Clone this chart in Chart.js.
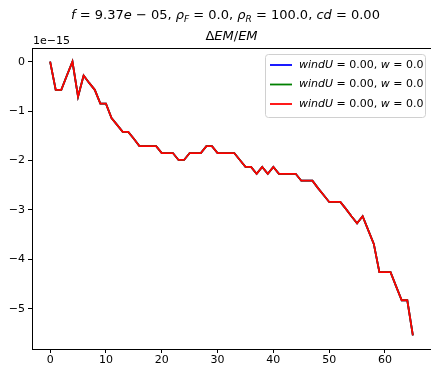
<!DOCTYPE html>
<html>
<head>
<meta charset="utf-8">
<script src="https://cdn.jsdelivr.net/npm/chart.js@4.4.1/dist/chart.umd.min.js"></script>
<style>
  html, body { margin: 0; padding: 0; background: #fff; overflow: hidden; }
  #wrap { width: 431px; height: 367px; }
</style>
</head>
<body>
<div id="wrap"><canvas id="emChart" width="431" height="367"></canvas></div>
<script>
// data (y in units of 1e-15)
const steps = [0, 1, 2, 3, 4, 5, 6, 7, 8, 9, 10, 11, 12, 13, 14, 15, 16, 17, 18, 19, 20, 21,
  22, 23, 24, 25, 26, 27, 28, 29, 30, 31, 32, 33, 34, 35, 36, 37, 38, 39, 40, 41, 42, 43,
  44, 45, 46, 47, 48, 49, 50, 51, 52, 53, 54, 55, 56, 57, 58, 59, 60, 61, 62, 63, 64, 65];
const relErr = [0, -0.57, -0.57, -0.28, 0, -0.71, -0.28, -0.43, -0.57, -0.85, -0.85,
  -1.14, -1.28, -1.42, -1.42, -1.56, -1.71, -1.71, -1.71, -1.71, -1.85, -1.85, -1.85,
  -1.99, -1.99, -1.85, -1.85, -1.85, -1.71, -1.71, -1.85, -1.85, -1.85, -1.85, -1.99,
  -2.13, -2.13, -2.27, -2.13, -2.27, -2.13, -2.27, -2.27, -2.27, -2.27, -2.41, -2.41,
  -2.41, -2.56, -2.70, -2.84, -2.84, -2.84, -2.98, -3.13, -3.27, -3.13, -3.41, -3.69,
  -4.26, -4.26, -4.26, -4.55, -4.83, -4.83, -5.54];
const seriesColors = ["#0000ff", "#008000", "#ff0000"];
const xTicks = [0, 10, 20, 30, 40, 50, 60];
const yTicks = [0, -1, -2, -3, -4, -5];
const yOffsetLabel = "1e\u221215";

const FONT = "DejaVu Sans";

// rich text pieces: plain, italic, italic subscript
const R = t => ({ t, it: false, sub: false });
const I = t => ({ t, it: true, sub: false });
const S = t => ({ t, it: true, sub: true });

const titleLine1 = [I("f"), R(" = 9.37"), I("e"), R(" \u2212 05, "), I("\u03c1"), S("F"),
  R(" = 0.0, "), I("\u03c1"), S("R"), R(" = 100.0, "), I("cd"), R(" = 0.00")];
const titleLine2 = [R("\u0394"), I("EM"), R("/"), I("EM")];
const legendLabel = [I("windU"), R(" = 0.00, "), I("w"), R(" = 0.0")];

function segFont(s, size) {
  const sz = s.sub ? Math.round(size * 0.7) : size;
  return (s.it ? "italic " : "") + sz + "px '" + FONT + "'";
}

function drawRich(ctx, segs, x, y, size, align) {
  let total = 0;
  segs.forEach(s => { ctx.font = segFont(s, size); total += ctx.measureText(s.t).width; });
  let cx = align === "center" ? x - total / 2 : x;
  ctx.textAlign = "left";
  ctx.textBaseline = "middle";
  segs.forEach(s => {
    ctx.font = segFont(s, size);
    ctx.fillText(s.t, cx, y + (s.sub ? size * 0.3 : 0));
    cx += ctx.measureText(s.t).width;
  });
}

const decorPlugin = {
  id: "decor",
  afterDraw(chart) {
    const ctx = chart.ctx;
    const a = chart.chartArea;
    ctx.save();
    // top spine
    ctx.strokeStyle = "#000";
    ctx.lineWidth = 1;
    ctx.beginPath();
    ctx.moveTo(a.left, a.top + 0.5);
    ctx.lineTo(a.right, a.top + 0.5);
    ctx.stroke();

    // titles
    ctx.fillStyle = "#000";
    const mid = (a.left + a.right) / 2;
    drawRich(ctx, titleLine1, mid - 6, 16, 13, "center");
    drawRich(ctx, titleLine2, mid, 37, 13, "center");

    // offset label
    ctx.font = "11px '" + FONT + "'";
    ctx.textAlign = "left";
    ctx.textBaseline = "middle";
    ctx.fillText(yOffsetLabel, 33, 41);

    // legend
    const lx = 265, ly = 54, lw = 160, lh = 63;
    ctx.fillStyle = "rgba(255,255,255,0.8)";
    ctx.strokeStyle = "#d0d0d0";
    ctx.beginPath();
    ctx.roundRect(lx + 0.5, ly + 0.5, lw, lh, 3);
    ctx.fill();
    ctx.stroke();
    chart.data.datasets.forEach((ds, i) => {
      const yy = ly + 11 + i * 19.5;
      ctx.strokeStyle = ds.borderColor;
      ctx.lineWidth = 1.8;
      ctx.beginPath();
      ctx.moveTo(lx + 5, yy);
      ctx.lineTo(lx + 27, yy);
      ctx.stroke();
      ctx.fillStyle = "#000";
      drawRich(ctx, legendLabel, lx + 34, yy, 11, "left");
    });
    ctx.restore();
  }
};

function fmt(v) {
  return v < 0 ? "\u2212" + Math.abs(v) : String(v);
}

const points = steps.map((x, i) => ({ x: x, y: relErr[i] }));

new Chart(document.getElementById("emChart"), {
  type: "line",
  data: {
    datasets: seriesColors.map((c, i) => ({
      label: "windU = 0.00, w = 0.0",
      data: points,
      borderColor: c,
      borderWidth: 1.8,
      pointRadius: 0,
      tension: 0,
      fill: false,
      order: seriesColors.length - 1 - i
    }))
  },
  options: {
    responsive: false,
    animation: false,
    devicePixelRatio: 1,
    layout: { padding: { top: 48, left: 0, right: 0, bottom: 0 } },
    plugins: { legend: { display: false }, title: { display: false }, tooltip: { enabled: false } },
    scales: {
      x: {
        type: "linear",
        min: -3.25,
        max: 68.25,
        afterBuildTicks: s => { s.ticks = xTicks.map(v => ({ value: v })); },
        afterFit: s => { s.height = 18; },
        grid: { display: true, drawOnChartArea: false, drawTicks: true, tickLength: 4, color: "#000" },
        border: { display: true, color: "#000", width: 1 },
        ticks: { color: "#000", font: { family: FONT, size: 11 }, padding: 1, maxRotation: 0, callback: v => fmt(v) }
      },
      y: {
        type: "linear",
        min: -5.817,
        max: 0.277,
        afterBuildTicks: s => { s.ticks = yTicks.map(v => ({ value: v })); },
        afterFit: s => { s.width = 32; },
        grid: { display: true, drawOnChartArea: false, drawTicks: true, tickLength: 4, color: "#000" },
        border: { display: true, color: "#000", width: 1 },
        ticks: { color: "#000", font: { family: FONT, size: 11 }, padding: 3, callback: v => fmt(v) }
      }
    }
  },
  plugins: [decorPlugin]
});
</script>
</body>
</html>
